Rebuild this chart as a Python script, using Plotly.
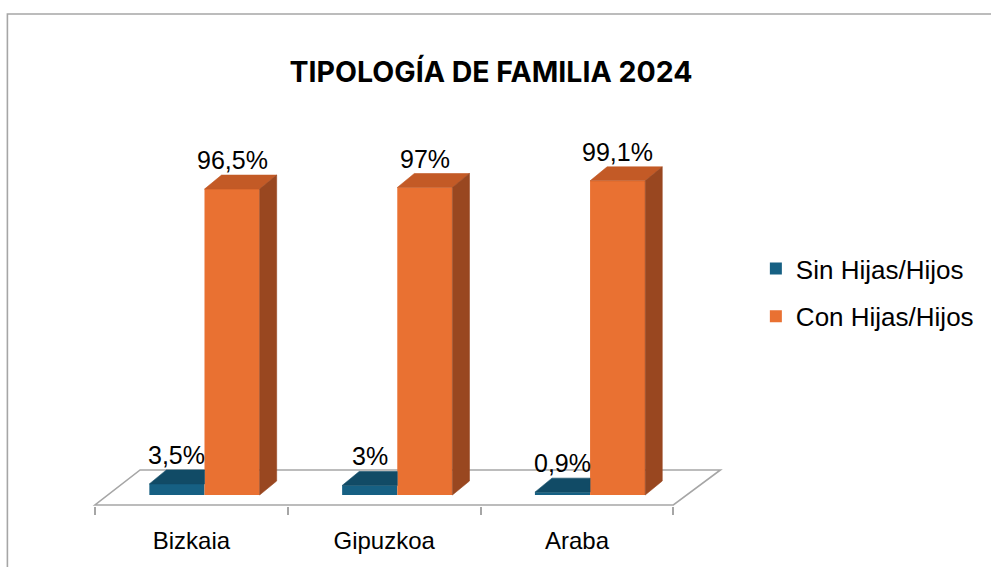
import plotly.graph_objects as go

# ---- data ----
categories = ["Bizkaia", "Gipuzkoa", "Araba"]
sin_hijos = [3.5, 3.0, 0.9]
con_hijos = [96.5, 97.0, 99.1]
series_names = ["Sin Hijas/Hijos", "Con Hijas/Hijos"]
title_text = "TIPOLOGÍA DE FAMILIA 2024"


def fmt(v):
    return f"{v:g}".replace(".", ",") + "%"


# ---- style / geometry (data units) ----
BLUE_FRONT, BLUE_TOP = "#166083", "#114b66"
ORANGE_FRONT, ORANGE_TOP, ORANGE_SIDE = "#e97132", "#c35a26", "#994720"
GRID = "#a6a6a6"
FONT = "Liberation Sans, Arial, sans-serif"

W = 0.286      # bar width (category units)
D0 = 0.068     # shift of front faces (mid-depth)
DX = 0.0884    # depth offset x
DY = 4.42      # depth offset y (%)
Y_FRONT = -3.15
Y_BACK = 7.89
X_BACK_SHIFT = 0.234

idx = list(range(len(categories)))

fig = go.Figure()

# front faces as bars
fig.add_trace(go.Bar(x=idx, y=sin_hijos, base=0, width=W, offset=D0 - W,
                     marker=dict(color=BLUE_FRONT, line=dict(width=0)),
                     name=series_names[0], legendgroup="a", hoverinfo="skip"))
fig.add_trace(go.Bar(x=idx, y=con_hijos, base=0, width=W, offset=D0,
                     marker=dict(color=ORANGE_FRONT, line=dict(width=0)),
                     name=series_names[1], legendgroup="b", hoverinfo="skip"))


def poly_trace(polys, color):
    xs, ys = [], []
    for p in polys:
        for (a, b) in p + [p[0]]:
            xs.append(a)
            ys.append(b)
        xs.append(None)
        ys.append(None)
    return go.Scatter(x=xs, y=ys, mode="lines", fill="toself", fillcolor=color,
                      line=dict(width=0.6, color=color), showlegend=False,
                      hoverinfo="skip")


blue_tops, orange_tops, orange_sides = [], [], []
for i, s, c in zip(idx, sin_hijos, con_hijos):
    bl, br = i + D0 - W, i + D0
    ol, orr = i + D0, i + D0 + W
    blue_tops.append([(bl, s), (br, s), (br, s + DY), (bl + DX, s + DY)])
    orange_tops.append([(ol, c), (orr, c), (orr + DX, c + DY), (ol + DX, c + DY)])
    orange_sides.append([(orr, 0), (orr, c), (orr + DX, c + DY), (orr + DX, DY)])

fig.add_trace(poly_trace(blue_tops, BLUE_TOP))
fig.add_trace(poly_trace(orange_tops, ORANGE_TOP))
fig.add_trace(poly_trace(orange_sides, ORANGE_SIDE))

# data labels
annotations = []
for i, s, c in zip(idx, sin_hijos, con_hijos):
    annotations.append(dict(x=i + D0 - W / 2, y=s + DY, text=fmt(s), showarrow=False,
                            yanchor="bottom", yshift=-1,
                            font=dict(family=FONT, size=25, color="#000000")))
    annotations.append(dict(x=i + D0 + W / 2, y=c + DY, text=fmt(c), showarrow=False,
                            yanchor="bottom", yshift=-1,
                            font=dict(family=FONT, size=25, color="#000000")))

n = len(categories)
floor_path = (f"M {-0.5},{Y_FRONT} L {n - 0.5},{Y_FRONT} "
              f"L {n - 0.5 + X_BACK_SHIFT + 0.01},{Y_BACK} L {-0.5 + X_BACK_SHIFT},{Y_BACK} Z")

L, R, T, B = 91, 261, 100, 61
PXX = 193.7
x0 = -0.5 - 4 / PXX
x1 = x0 + (991 - L - R) / PXX
PXY = 3.17
y0 = -(506 - 495) / PXY
y1 = (495 - 100) / PXY
plot_w = 991 - L - R
plot_h = 567 - T - B

shapes = [
    dict(type="path", path=floor_path, xref="x", yref="y", layer="below",
         line=dict(color=GRID, width=1.6), fillcolor="rgba(0,0,0,0)"),
    # chart border (left & top visible)
    dict(type="rect", xref="paper", yref="paper",
         x0=(7 - L) / plot_w, x1=(1010 - L) / plot_w,
         y0=(506 - 590) / plot_h, y1=(506 - 14) / plot_h,
         line=dict(color=GRID, width=1.6), layer="below"),
]

fig.update_layout(
    width=991, height=567,
    margin=dict(l=L, r=R, t=T, b=B),
    paper_bgcolor="white", plot_bgcolor="white",
    barmode="overlay",
    title=dict(text=f"<b>{title_text}</b>", x=491 / 991, xref="container",
               y=1 - 72 / 567, yref="container", xanchor="center", yanchor="middle",
               font=dict(family="Inter, sans-serif", size=28.5, color="#000000")),
    xaxis=dict(range=[x0, x1], tickvals=idx, ticktext=categories, ticks="",
               showgrid=False, zeroline=False, showline=False,
               ticklabelstandoff=18,
               tickfont=dict(family=FONT, size=24, color="#000000"),
               minor=dict(tickmode="array", tickvals=[k - 0.5 for k in range(n + 1)],
                          ticks="outside", ticklen=8, tickwidth=1.6, tickcolor=GRID,
                          showgrid=False)),
    yaxis=dict(range=[y0, y1], visible=False, showgrid=False, zeroline=False),
    legend=dict(x=(759 - L) / plot_w, xanchor="left", y=(506 - 245) / plot_h,
                yanchor="top", traceorder="grouped", tracegroupgap=11,
                font=dict(family=FONT, size=26, color="#000000"),
                bgcolor="rgba(0,0,0,0)"),
    annotations=annotations,
    shapes=shapes,
    showlegend=True,
)

fig.write_html("out.html", config={"displayModeBar": False},
               post_script="document.body.style.margin='0';")
